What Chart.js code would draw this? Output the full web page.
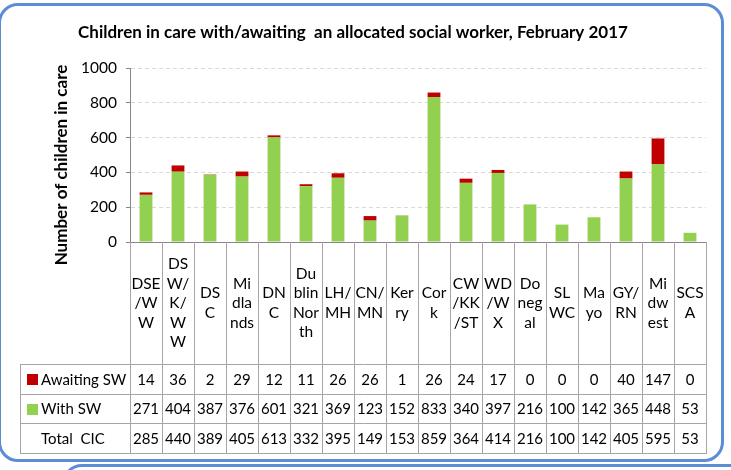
<!DOCTYPE html>
<html>
<head>
<meta charset="utf-8">
<script src="https://cdn.jsdelivr.net/npm/chart.js@4"></script>
<style>
  html, body { margin:0; padding:0; background:#fff; }
  #wrap { position:relative; width:731px; height:470px; overflow:hidden; }
  #c { position:absolute; left:0; top:0; }
  .box { position:absolute; border:3px solid #5B8DD6; border-radius:20px; pointer-events:none; box-sizing:border-box; }
</style>
</head>
<body>
<div id="wrap">
  <canvas id="c" width="731" height="470"></canvas>
  <div class="box" style="left:-2px; top:3px; width:726px; height:459px;"></div>
  <div class="box" style="left:62px; top:464px; width:700px; height:60px;"></div>
</div>
<script>
const categories = [
  ['DSE','/W','W'], ['DS','W/','K/','W','W'], ['DS','C'], ['Mi','dla','nds'], ['DN','C'],
  ['Du','blin','Nor','th'], ['LH/','MH'], ['CN/','MN'], ['Ker','ry'], ['Cor','k'],
  ['CW','/KK','/ST'], ['WD','/W','X'], ['Do','neg','al'], ['SL','WC'], ['Ma','yo'],
  ['GY/','RN'], ['Mi','dw','est'], ['SCS','A']
];
const awaitingSW = [14, 36, 2, 29, 12, 11, 26, 26, 1, 26, 24, 17, 0, 0, 0, 40, 147, 0];
const withSW     = [271, 404, 387, 376, 601, 321, 369, 123, 152, 833, 340, 397, 216, 100, 142, 365, 448, 53];
const totalCIC   = [285, 440, 389, 405, 613, 332, 395, 149, 153, 859, 364, 414, 216, 100, 142, 405, 595, 53];
const yTicks = [0, 200, 400, 600, 800, 1000];

const RED = '#C00000', GREEN = '#92D050', LINE = '#A6A6A6', FONT = 'Lato';

// data table + category cells under the plot, drawn off the x scale
const tablePlugin = {
  id: 'dataTable',
  afterDraw(chart){
    const {ctx, chartArea: ca, scales: {x}} = chart;
    const colW = (ca.right - ca.left) / categories.length;
    const bandBottom = 364, rowH = 29.7, tableLeft = 20;
    const rowsY = [bandBottom, bandBottom + rowH, bandBottom + 2*rowH, bandBottom + 3*rowH].map(Math.round);
    const px = v => Math.round(v) + 0.5;

    ctx.save();
    ctx.strokeStyle = LINE; ctx.lineWidth = 1;
    ctx.beginPath();
    for(let i = 0; i <= categories.length; i++){
      const xx = px(ca.left + i*colW);
      ctx.moveTo(xx, ca.bottom); ctx.lineTo(xx, rowsY[3]);
    }
    ctx.moveTo(px(tableLeft), rowsY[0]); ctx.lineTo(px(tableLeft), rowsY[3]);
    rowsY.forEach(y => { ctx.moveTo(tableLeft, px(y)); ctx.lineTo(ca.right + 1, px(y)); });
    ctx.stroke();

    ctx.fillStyle = '#000';
    ctx.font = '15.5px ' + FONT;
    ctx.textAlign = 'center'; ctx.textBaseline = 'middle';
    const midBand = (ca.bottom + bandBottom) / 2;
    categories.forEach((lines, i) => {
      const cx = x.getPixelForValue(i);
      lines.forEach((t, j) => ctx.fillText(t, cx, midBand + (j - (lines.length - 1)/2) * 19.5));
    });

    const rows = [
      {label:'Awaiting SW', color:RED, vals:awaitingSW},
      {label:'With SW', color:GREEN, vals:withSW},
      {label:'Total  CIC', color:null, vals:totalCIC}
    ];
    ctx.font = '15px ' + FONT;
    rows.forEach((r, k) => {
      const cy = (rowsY[k] + rowsY[k+1]) / 2 + 1;
      r.vals.forEach((v, i) => ctx.fillText(String(v), x.getPixelForValue(i), cy));
      if(r.color){ ctx.fillStyle = r.color; ctx.fillRect(27, Math.round(cy - 6), 11, 11); ctx.fillStyle = '#000'; }
      ctx.textAlign = 'left'; ctx.fillText(r.label, 41, cy); ctx.textAlign = 'center';
    });

    // y axis title
    ctx.font = 'bold 17px ' + FONT;
    ctx.translate(62, 165); ctx.rotate(-Math.PI/2);
    ctx.fillText('Number of children in care', 0, 0);
    ctx.restore();
  }
};

new Chart(document.getElementById('c'), {
  type: 'bar',
  data: {
    labels: categories.map(l => l.join('')),
    datasets: [
      { label:'With SW', data:withSW, backgroundColor:GREEN, stack:'s', barPercentage:0.4, categoryPercentage:1 },
      { label:'Awaiting SW', data:awaitingSW, backgroundColor:RED, stack:'s', barPercentage:0.4, categoryPercentage:1 }
    ]
  },
  options: {
    responsive:false, animation:false,
    layout:{ padding:{ top:0, right:25, bottom:0, left:0 } },
    plugins:{
      legend:{ display:false }, tooltip:{ enabled:false },
      title:{ display:true, text:'Children in care with/awaiting  an allocated social worker, February 2017',
              color:'#000', font:{ family:FONT, size:17, weight:'bold', lineHeight:1.2 }, padding:{ top:22.8, bottom:24.8 } }
    },
    scales:{
      x:{ stacked:true, grid:{ display:false }, ticks:{ display:false },
          border:{ color:'#868686', width:1 },
          afterFit(s){ s.height = 228; } },
      y:{ stacked:true, min:0, max:1000,
          afterBuildTicks(s){ s.ticks = yTicks.map(v => ({value:v})); },
          ticks:{ color:'#000', font:{ family:FONT, size:15.5 }, padding:9, callback:v => String(v) },
          grid:{ color:'#D9D9D9', tickLength:4, tickColor:'#868686' },
          border:{ color:'#868686', width:1, dash:[4,3] },
          afterFit(s){ s.width = 130; } }
    }
  },
  plugins:[tablePlugin]
});
</script>
</body>
</html>
